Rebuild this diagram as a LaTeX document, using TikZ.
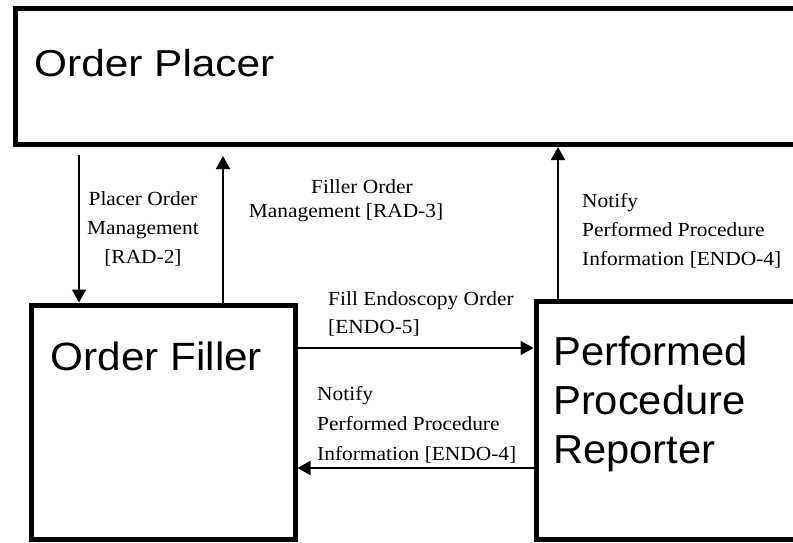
\documentclass[tikz,border=0pt]{standalone}
\usepackage{fontspec}
\setmainfont{Liberation Serif}
\newfontfamily\lblfont[FakeStretch=1.07]{Liberation Serif}
\newfontfamily\bigfontA[FakeStretch=1.13]{Liberation Sans}
\newfontfamily\bigfontB[FakeStretch=1.07]{Liberation Sans}
\newfontfamily\bigfontC[FakeStretch=1.03]{Liberation Sans}
\usetikzlibrary{arrows.meta}
\begin{document}
\begin{tikzpicture}[x=1pt,y=-1pt,
  box/.style={draw, line width=5pt, inner sep=0pt},
  conn/.style={line width=1.8pt, -{Triangle[length=13pt,width=14pt]}},
  lbl/.style={inner sep=0pt, font=\lblfont\fontsize{20}{29}\selectfont}]
\useasboundingbox (0,0) rectangle (793,542);
\clip (0,0) rectangle (793,542);
% boxes
\node[box, minimum width=815pt, minimum height=136pt] (placer) at (422.5,76.5) {};
\node[box, minimum width=263.5pt, minimum height=234.5pt] (filler) at (163.25,422.25) {};
\node[box, minimum width=294pt, minimum height=238.5pt] (ppr) at (683,420.25) {};
% box titles
\node[anchor=base west, inner sep=0pt, font=\bigfontA\fontsize{37.5}{45}\selectfont] (placertxt) at (34,76) {Order Placer};
\node[anchor=base west, inner sep=0pt, font=\bigfontB\fontsize{39.5}{47}\selectfont] (fillertxt) at (50.5,370.5) {Order Filler};
\node[anchor=base west, inner sep=0pt, align=left, font=\bigfontC\fontsize{40.5}{49}\selectfont] (pprtxt) at (553,463) {Performed\\Procedure\\Reporter};
% connectors
\coordinate (a1top) at (79,155);
\draw[conn] (a1top) -- (a1top |- filler.north);
\coordinate (a2top) at (223,156);
\draw[conn] (a2top |- filler.north) -- (a2top);
\coordinate (a3x) at (558,0);
\draw[conn] (a3x |- ppr.north) -- (a3x |- placer.south);
\coordinate (a4y) at (0,348);
\draw[conn] (a4y -| filler.east) -- (a4y -| ppr.west);
\coordinate (a5y) at (0,468);
\draw[conn] (a5y -| ppr.west) -- (a5y -| filler.east);
% labels
\node[lbl, anchor=base, align=center] (l1) at (143,263) {Placer Order\\Management\\{[RAD-2]}};
\node[lbl, anchor=base, align=center, font=\lblfont\fontsize{20}{24}\selectfont] (l2) at (346,217) {\hspace*{32pt}Filler Order\\Management [RAD-3]};
\node[lbl, anchor=base west, align=left] (l3) at (582,265) {Notify\\Performed Procedure\\Information [ENDO-4]};
\node[lbl, anchor=base west, align=left, font=\lblfont\fontsize{20}{28}\selectfont] (l4) at (328,333) {Fill Endoscopy Order\\{[ENDO-5]}};
\node[lbl, anchor=base west, align=left, font=\lblfont\fontsize{20}{30}\selectfont] (l5) at (317,460) {Notify\\Performed Procedure\\Information [ENDO-4]};
\end{tikzpicture}
\end{document}
